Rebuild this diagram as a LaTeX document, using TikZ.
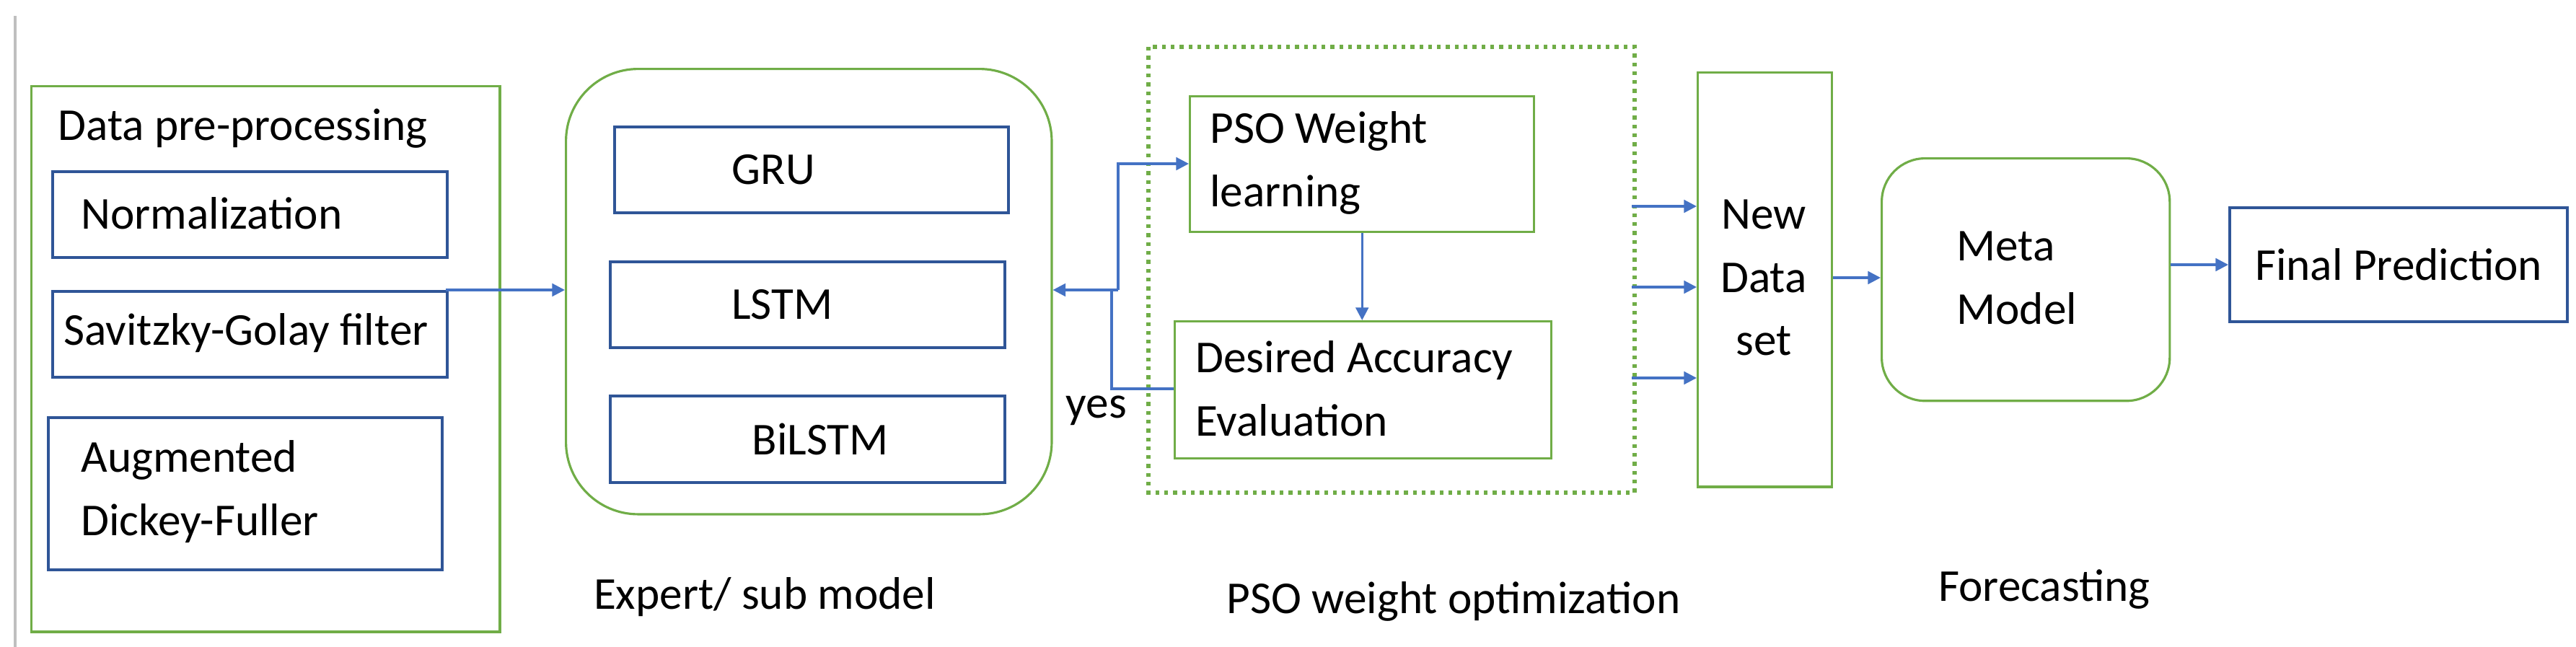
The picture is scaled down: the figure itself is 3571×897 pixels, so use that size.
\documentclass[tikz,border=0pt]{standalone}
\usepackage{fontspec}
\setmainfont{Carlito}
\usetikzlibrary{arrows.meta}
\definecolor{gr}{HTML}{70AD47}
\definecolor{bl}{HTML}{2F5597}
\definecolor{ar}{HTML}{4472C4}
\begin{document}
\begin{tikzpicture}[x=0.01cm,y=-0.01cm,
  gbox/.style={draw=gr,line width=0.9pt},
  bbox/.style={draw=bl,line width=1.1pt},
  txt/.style={font=\fontsize{18}{25}\selectfont,align=left},
  arr/.style={draw=ar,line width=0.9pt,-{Triangle[width=5pt,length=5pt]}},
  ln/.style={draw=ar,line width=0.9pt}]
\useasboundingbox (0,0) rectangle (3571,897);
\draw[gray!50,line width=1pt] (21,22) -- (21,897);
% data pre-processing
\node[gbox,minimum width=6.49cm,minimum height=7.56cm,anchor=north west,inner sep=0] (dp) at (42,118) {};
\node[txt,anchor=west] (dpt) at (68,178) {Data pre-processing};
\node[bbox,minimum width=5.47cm,minimum height=1.19cm,anchor=north west,inner sep=0] (norm) at (71,236) {};
\node[txt,anchor=west] at (100,296) {Normalization};
\node[bbox,minimum width=5.47cm,minimum height=1.19cm,anchor=north west,inner sep=0] (sg) at (71,402) {};
\node[txt,anchor=west] at (76,462) {Savitzky-Golay filter};
\node[bbox,minimum width=5.46cm,minimum height=2.11cm,anchor=north west,inner sep=0] (adf) at (65,577) {};
\node[txt,anchor=west] at (100,682) {Augmented\\Dickey-Fuller};
% expert
\node[gbox,rounded corners=1cm,minimum width=6.73cm,minimum height=6.17cm,anchor=north west,inner sep=0] (exp) at (783,94) {};
\node[bbox,minimum width=5.46cm,minimum height=1.19cm,anchor=north west,inner sep=0,txt] (gru) at (850,174) {\hspace*{-30pt}GRU};
\node[bbox,minimum width=5.47cm,minimum height=1.19cm,anchor=north west,inner sep=0,txt] (lstm) at (844,361) {\hspace*{-20pt}LSTM};
\node[bbox,minimum width=5.47cm,minimum height=1.2cm,anchor=north west,inner sep=0,txt] (bil) at (844,547) {\hspace*{10pt}BiLSTM};
\node[txt] (expt) at (1060,828) {Expert/ sub model};
% PSO
\draw[gr,line width=1.5pt,dotted] (1592,65) rectangle (2266,683);
\node[gbox,minimum width=4.77cm,minimum height=1.88cm,anchor=north west,inner sep=0] (pso) at (1648,132) {};
\node[txt,anchor=west] at (1665,226) {PSO Weight\\learning};
\node[gbox,minimum width=5.22cm,minimum height=1.9cm,anchor=north west,inner sep=0] (des) at (1627,444) {};
\node[txt,anchor=west] at (1645,539) {Desired Accuracy\\Evaluation};
\node[txt] (psot) at (2015,834) {PSO weight optimization};
\node[txt] (yes) at (1520,569) {yes};
% new data set
\node[gbox,minimum width=1.86cm,minimum height=5.74cm,anchor=north west,inner sep=0] (nds) at (2352,99) {};
\node[txt,align=center] at (2445,385) {New\\Data\\set};
% meta
\node[gbox,rounded corners=0.6cm,minimum width=3.99cm,minimum height=3.36cm,anchor=north west,inner sep=0] (meta) at (2607,218) {};
\node[txt,anchor=west] at (2700,385) {Meta\\Model};
\node[txt] (fc) at (2834,817) {Forecasting};
% final
\node[bbox,minimum width=4.68cm,minimum height=1.58cm,anchor=north west,inner sep=0,txt] (fin) at (3089,286) {Final Prediction};
% connectors
\coordinate (sgr) at (618,402);
\draw[arr] (sgr) -- (exp.west |- sgr);
\coordinate (j1) at (1550,402);
\coordinate (j2) at (1541,402);
\draw[arr] (j1) -- (exp.east |- j1);
\draw[arr] (j1) -- (1550,227) -- (pso.west |- 0,227);
\draw[ln] (des.west |- 0,539) -- (1541,539) -- (j2);
\draw[arr] (pso.south) -- (des.north -| pso.south);
\foreach \yy in {286,398,524} \draw[arr] (2262,\yy) -- (nds.west |- 0,\yy);
\draw[arr] (nds.east |- 0,385) -- (meta.west |- 0,385);
\draw[arr] (meta.east |- 0,367) -- (fin.west |- 0,367);
\end{tikzpicture}
\end{document}
